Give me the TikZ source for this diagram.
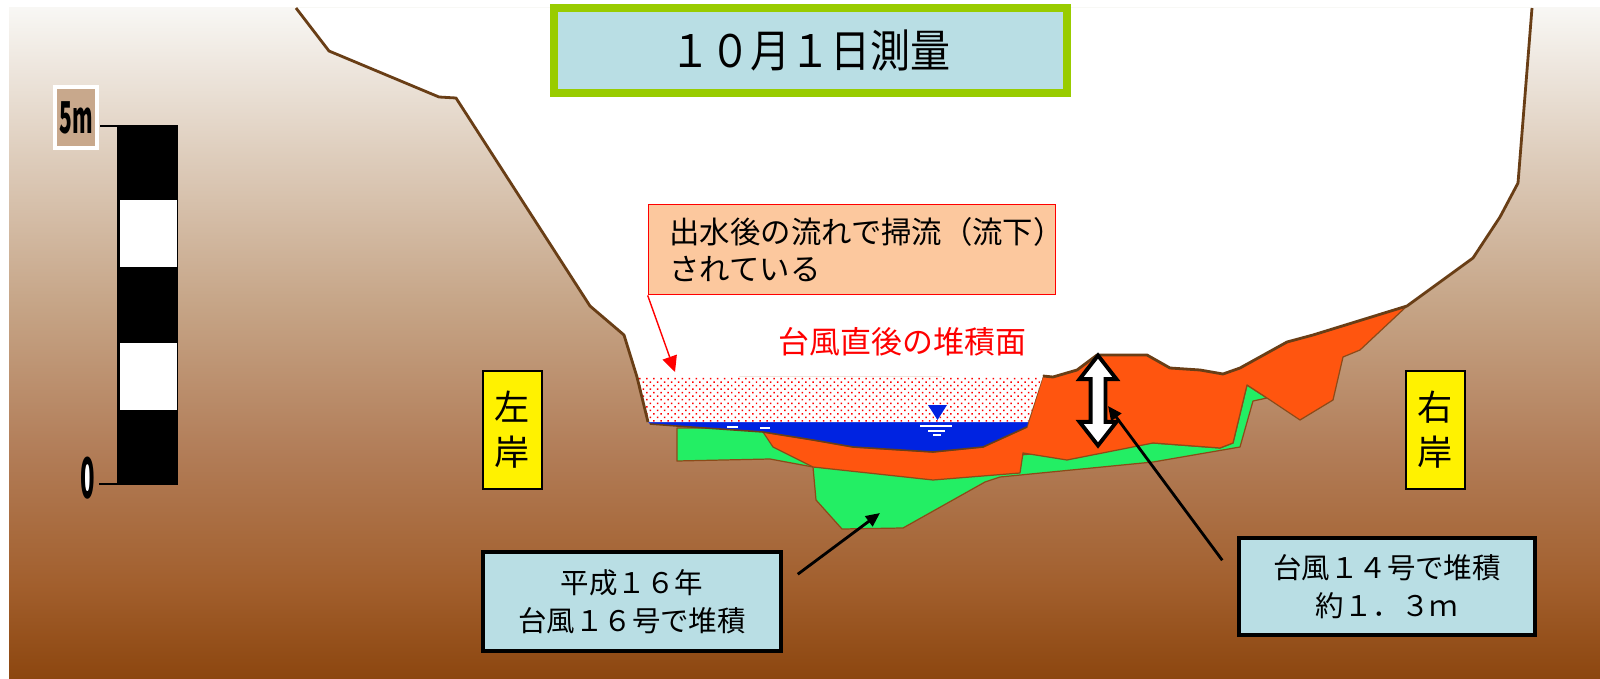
\documentclass[tikz,border=0pt]{standalone}
\usepackage{fontspec}
\setmainfont{Noto Sans CJK JP}
\usepackage{tikz}
\usetikzlibrary{shapes,arrows.meta,positioning,calc,patterns.meta}

\definecolor{groundtop}{RGB}{248,247,244}
\definecolor{groundA}{RGB}{222,205,188}
\definecolor{groundB}{RGB}{198,165,135}
\definecolor{groundC}{RGB}{178,125,88}
\definecolor{groundD}{RGB}{162,95,45}
\definecolor{groundbot}{RGB}{140,70,15}
\definecolor{bankbrown}{RGB}{105,62,22}
\definecolor{edgebrown}{RGB}{140,75,25}
\definecolor{sedorange}{RGB}{255,85,15}
\definecolor{sedgreen}{RGB}{35,238,100}
\definecolor{riverblue}{RGB}{0,35,225}
\definecolor{boxblue}{RGB}{185,222,228}
\definecolor{titlegreen}{RGB}{153,204,0}
\definecolor{peach}{RGB}{252,200,158}
\definecolor{scaletan}{RGB}{200,168,140}

\pgfdeclareverticalshading{groundshade}{100bp}{color(0bp)=(groundbot); color(25bp)=(groundbot);
  color(32bp)=(groundD); color(42bp)=(groundC); color(53bp)=(groundB); color(64bp)=(groundA);
  color(75bp)=(groundtop); color(100bp)=(groundtop)}

\begin{document}
\begin{tikzpicture}[
    x=0.02cm, y=-0.02cm,
    bankline/.style={draw=bankbrown, line width=1.6pt, line join=round},
    deposit/.style={draw=edgebrown, line width=0.7pt, line join=round},
    bankbox/.style={rectangle, draw=black, line width=1.1pt, fill=yellow, minimum width=1.18cm, minimum height=2.36cm, align=center, inner sep=0pt, font=\fontsize{20}{25.6}\selectfont},
    notebox/.style={rectangle, draw=black, line width=2.3pt, fill=boxblue, align=center, inner sep=0pt, font=\fontsize{16.2}{21.5}\selectfont},
    pointer/.style={-{Triangle[length=8pt,width=7pt]}, line width=1.6pt}
]

% Frame and ground
\useasboundingbox (0,0) rectangle (1600,679);
\fill[white] (0,0) rectangle (1600,679);
\shade[shading=groundshade] (9,8) rectangle (1600,679);

% Open valley above the ground surface
\fill[white] (296,8) -- (329,51) -- (439,97) -- (456,98) -- (590,306) -- (624,335) -- (637,377)
  -- (1043,376) -- (1053,377) -- (1077,370) -- (1097,355) -- (1147,355) -- (1170,368) -- (1200,370)
  -- (1223,374) -- (1240,368) -- (1287,342) -- (1313,335) -- (1407,306) -- (1473,258) -- (1500,217)
  -- (1518,183) -- (1532,8) -- cycle;

% Deposits: H16 (green), then T14 (orange) on top
\filldraw[deposit, fill=sedgreen] (677,428) -- (765,428) -- (1020,455) -- (1153,443) -- (1220,448)
  -- (1233,443) -- (1247,385) -- (1267,398) -- (1253,401) -- (1240,447) -- (1153,462) -- (1000,477)
  -- (985,482) -- (903,528) -- (842,529) -- (816,500) -- (813,467) -- (770,459) -- (677,461) -- cycle;
\filldraw[deposit, fill=sedorange] (763,432) -- (813,440) -- (853,447) -- (933,452) -- (983,447)
  -- (1027,427) -- (1043,376) -- (1053,377) -- (1077,370) -- (1097,355) -- (1147,355) -- (1170,368)
  -- (1200,370) -- (1223,374) -- (1240,368) -- (1287,342) -- (1313,335) -- (1407,306) -- (1360,350)
  -- (1343,357) -- (1333,400) -- (1300,420) -- (1267,398) -- (1247,385) -- (1233,443) -- (1220,448)
  -- (1153,443) -- (1067,460) -- (1023,453) -- (1020,473) -- (933,480) -- (813,467) -- (773,447) -- cycle;

% River water
\fill[riverblue] (648,422) -- (1028,422) -- (1027,427) -- (983,447) -- (933,452) -- (853,447)
  -- (813,440) -- (763,432) -- (677,426) -- (650,424) -- cycle;
\draw[bankbrown, line width=0.9pt] (650,424) -- (677,426) -- (763,432) -- (813,440) -- (853,447)
  -- (933,452) -- (983,447) -- (1027,427);

% Surface right after the typhoon (dotted)
\fill[white] (637,377) -- (1043,376) -- (1028,422) -- (648,422) -- cycle;
\fill[pattern={Dots[distance=0.1cm, radius=0.6pt, angle=45]}, pattern color=red]
  (637,377) -- (1043,376) -- (1028,422) -- (648,422) -- cycle;

% Banks
\draw[bankline] (296,8) -- (329,51) -- (439,97) -- (456,98) -- (590,306) -- (624,335) -- (637,377) -- (648,422);
\draw[bankline] (1043,376) -- (1053,377) -- (1077,370) -- (1097,355) -- (1147,355) -- (1170,368)
  -- (1200,370) -- (1223,374) -- (1240,368) -- (1287,342) -- (1313,335) -- (1407,306) -- (1473,258)
  -- (1500,217) -- (1518,183) -- (1532,8);

% Water level mark
\fill[riverblue] (928,405) -- (947,405) -- (937.5,420) -- cycle;
\draw[white, line width=1pt] (920,426) -- (952,426) (928,431) -- (945,431) (933,435) -- (941,435)
  (727,427) -- (738,427) (760,428) -- (770,428);

% Scale bar
\fill[black] (117,125) rectangle (178,485);
\foreach \y in {200,343}
  \fill[white] (120,\y) rectangle (177,\y+67);
\draw[line width=1.2pt] (100,126) -- (117,126) (99,484) -- (117,484);
\node[fill=scaletan, draw=white, line width=2.3pt, minimum width=0.84cm, minimum height=1.22cm, inner sep=0pt] (toplab) at (76,117.5)
  {\fontsize{12.5}{12.5}\selectfont\bfseries\scalebox{0.95}[2.0]{5m}};
\fill[white] (88,478) ellipse (3.5 and 15);
\node[inner sep=0pt] (zerolab) at (88,478) {\fontsize{13.6}{13.6}\selectfont\bfseries\scalebox{1}[2.35]{0}};

% Title
\node[rectangle, draw=titlegreen, line width=4.5pt, fill=boxblue, minimum width=10.26cm, minimum height=1.7cm, inner sep=0pt,
  font=\fontsize{22.8}{22.8}\selectfont] (title) at (810.5,50.5) {\scalebox{1}[1.12]{１０月１日測量}};

% Labels
\node[rectangle, draw=red, line width=1pt, fill=peach, minimum height=1.8cm, text width=7.3cm, inner xsep=0.42cm, inner ysep=0pt,
  align=left, font=\fontsize{17.3}{21}\selectfont] (flownote) at (852,249.5) {出水後の流れで掃流（流下）\\されている};
\node[text=red, font=\fontsize{17.6}{17.6}\selectfont] (surfacelab) at (902.5,342) {台風直後の堆積面};
\node[bankbox] (leftbank) at (512.5,430) {左\\岸};
\node[bankbox] (rightbank) at (1435.5,430) {右\\岸};
\node[notebox, minimum width=5.95cm, minimum height=1.97cm] (h16note) at (632,601.5) {平成１６年\\台風１６号で堆積};
\node[notebox, minimum width=5.91cm, minimum height=1.93cm] (h14note) at (1387,586.5) {台風１４号で堆積\\約１．３ｍ};

% Deposit thickness
\node[double arrow, draw=black, fill=white, line width=2.2pt, rotate=90, minimum height=1.8cm, inner xsep=0pt, inner ysep=0.11cm,
  double arrow head extend=0.22cm, double arrow tip angle=76] (depth) at (1098,400.5) {};

% Pointers
\coordinate (scourtip) at (675,372);
\coordinate (h16tip) at (880,513);
\coordinate (h14tip) at (1108,406);
\draw[red, line width=0.8pt, -{Triangle[length=9pt,width=8.5pt]}] (flownote.south west) -- (scourtip);
\draw[pointer] ($(h16note.north east)+(15,24)$) -- (h16tip);
\draw[pointer] ($(h14note.north west)+(-15,24)$) -- (h14tip);

\end{tikzpicture}
\end{document}
